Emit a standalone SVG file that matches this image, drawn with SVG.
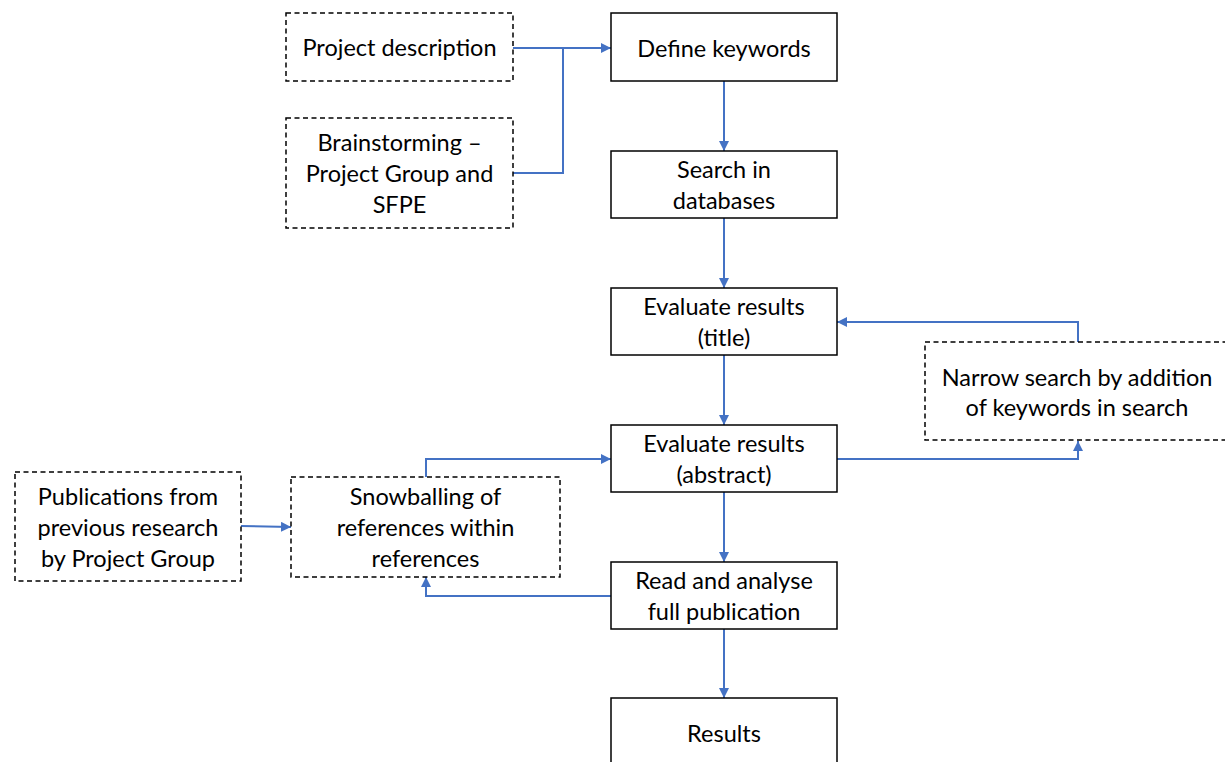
<svg xmlns="http://www.w3.org/2000/svg" width="1225" height="762" viewBox="0 0 1225 762">
  <style>
    .box { fill: #ffffff; stroke: #000000; stroke-width: 1.5; }
    .dash { fill: #ffffff; stroke: #000000; stroke-width: 1.5; stroke-dasharray: 5 3.5; }
    .lbl { font-family: Lato, "Liberation Sans", sans-serif; font-size: 23.5px; fill: #000000; text-anchor: middle; dominant-baseline: central; }
    .conn { fill: none; stroke: #4472C4; stroke-width: 2; }
  </style>
  <defs>
    <marker id="arrow" viewBox="0 0 10 10" refX="10" refY="5" markerWidth="5" markerHeight="5" orient="auto" markerUnits="strokeWidth">
      <path d="M0,0 L10,5 L0,10 Z" fill="#4472C4"/>
    </marker>
  </defs>
  <rect width="1225" height="762" fill="#ffffff"/>

  <!-- connectors -->
  <g id="connectors">
    <path class="conn" d="M513,48 H611" marker-end="url(#arrow)"/>
    <path class="conn" d="M513,173 H563 V48"/>
    <path class="conn" d="M724,81 V151" marker-end="url(#arrow)"/>
    <path class="conn" d="M724,218 V288" marker-end="url(#arrow)"/>
    <path class="conn" d="M724,355 V425" marker-end="url(#arrow)"/>
    <path class="conn" d="M724,492 V562" marker-end="url(#arrow)"/>
    <path class="conn" d="M724,629 V698" marker-end="url(#arrow)"/>
    <path class="conn" d="M837,459 H1078 V441" marker-end="url(#arrow)"/>
    <path class="conn" d="M1078,342 V322 H837" marker-end="url(#arrow)"/>
    <path class="conn" d="M426,477 V459 H611" marker-end="url(#arrow)"/>
    <path class="conn" d="M241,526 L291,527" marker-end="url(#arrow)"/>
    <path class="conn" d="M611,596 H426 V577" marker-end="url(#arrow)"/>
  </g>

  <g id="project-description">
    <rect class="dash" x="286" y="13" width="227" height="68"/>
    <text class="lbl" x="399.5" y="47">Project description</text>
  </g>
  <g id="brainstorming">
    <rect class="dash" x="286" y="118" width="227" height="110"/>
    <text class="lbl" x="399.5" y="142">Brainstorming –</text>
    <text class="lbl" x="399.5" y="173">Project Group and</text>
    <text class="lbl" x="399.5" y="204">SFPE</text>
  </g>
  <g id="define-keywords">
    <rect class="box" x="611" y="13" width="226" height="68"/>
    <text class="lbl" x="724" y="48">Define keywords</text>
  </g>
  <g id="search-databases">
    <rect class="box" x="611" y="151" width="226" height="67"/>
    <text class="lbl" x="724" y="169">Search in</text>
    <text class="lbl" x="724" y="200">databases</text>
  </g>
  <g id="evaluate-title">
    <rect class="box" x="611" y="288" width="226" height="67"/>
    <text class="lbl" x="724" y="306">Evaluate results</text>
    <text class="lbl" x="724" y="337">(title)</text>
  </g>
  <g id="evaluate-abstract">
    <rect class="box" x="611" y="425" width="226" height="67"/>
    <text class="lbl" x="724" y="443">Evaluate results</text>
    <text class="lbl" x="724" y="474">(abstract)</text>
  </g>
  <g id="read-analyse">
    <rect class="box" x="611" y="562" width="226" height="67"/>
    <text class="lbl" x="724" y="580">Read and analyse</text>
    <text class="lbl" x="724" y="611">full publication</text>
  </g>
  <g id="results">
    <rect class="box" x="611" y="698" width="226" height="80"/>
    <text class="lbl" x="724" y="733">Results</text>
  </g>
  <g id="narrow-search">
    <rect class="dash" x="925" y="342" width="310" height="98"/>
    <text class="lbl" x="1077" y="377">Narrow search by addition</text>
    <text class="lbl" x="1077" y="407">of keywords in search</text>
  </g>
  <g id="publications">
    <rect class="dash" x="15" y="472" width="226" height="109"/>
    <text class="lbl" x="128" y="496">Publications from</text>
    <text class="lbl" x="128" y="527">previous research</text>
    <text class="lbl" x="128" y="558">by Project Group</text>
  </g>
  <g id="snowballing">
    <rect class="dash" x="291" y="477" width="269" height="100"/>
    <text class="lbl" x="425.5" y="496">Snowballing of</text>
    <text class="lbl" x="425.5" y="527">references within</text>
    <text class="lbl" x="425.5" y="558">references</text>
  </g>
</svg>
